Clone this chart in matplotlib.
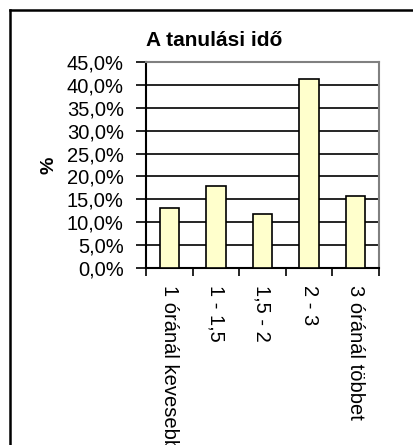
import matplotlib as mpl
mpl.use('Agg')
import matplotlib.pyplot as plt
from matplotlib.lines import Line2D
from matplotlib.ticker import FuncFormatter, FixedLocator

# data
categories = ['1 óránál kevesebb', '1 - 1,5', '1,5 - 2', '2 - 3', '3 óránál többet']
shares = [13.0, 18.0, 11.7, 41.3, 15.7]
y_ticks = [0, 5, 10, 15, 20, 25, 30, 35, 40, 45]

plt.rcParams['font.family'] = ['Liberation Sans', 'DejaVu Sans']

W, H = 413, 445
figure = plt.figure(figsize=(W / 100, H / 100), dpi=100)
ax = figure.add_axes([146 / W, 1 - 268 / H, (379 - 146) / W, (268 - 62) / H])

x = list(range(len(categories)))
ax.bar(x, shares, width=0.42, color='#FFFFCC', edgecolor='black', linewidth=1.2, zorder=3)

ax.set_xlim(-0.5, len(categories) - 0.5)
ax.set_ylim(0, 45)
ax.set_yticks(y_ticks)
ax.yaxis.set_major_formatter(FuncFormatter(lambda v, p: ('%.1f%%' % v).replace('.', ',')))
ax.grid(True, axis='y', color='black', linewidth=1.2, zorder=1)
ax.tick_params(axis='y', labelsize=14.5, length=7, width=1.2, direction='out', pad=9)

# category labels centred, ticks between categories
ax.xaxis.set_major_locator(FixedLocator([i - 0.5 for i in range(len(categories) + 1)]))
ax.xaxis.set_minor_locator(FixedLocator(x))
ax.set_xticklabels([''] * (len(categories) + 1))
ax.set_xticklabels(categories, minor=True, rotation=-90, fontsize=14.5, va='top', ha='center')
ax.tick_params(axis='x', which='major', length=6, width=1.2, direction='out')
ax.tick_params(axis='x', which='minor', length=0, pad=12)

for side in ['left', 'bottom']:
    ax.spines[side].set_linewidth(1.5)
    ax.spines[side].set_color('black')
for side in ['right', 'top']:
    ax.spines[side].set_linewidth(1.5)
    ax.spines[side].set_color('#808080')

figure.text(214 / W, 1 - 40 / H, 'A tanulási idő', fontsize=15, fontweight='bold',
            ha='center', va='center')
figure.text(49 / W, 1 - 165 / H, '%', fontsize=14, fontweight='bold',
            ha='center', va='center', rotation=90)

# outer chart border (top and left visible)
figure.add_artist(Line2D([10 / W, 1.0], [1 - 10 / H, 1 - 10 / H], color='black', linewidth=1.8,
                         transform=figure.transFigure))
figure.add_artist(Line2D([10 / W, 10 / W], [1 - 10 / H, 0.0], color='black', linewidth=1.8,
                         transform=figure.transFigure))

figure.savefig('out.png', dpi=100)
plt.close(figure)
